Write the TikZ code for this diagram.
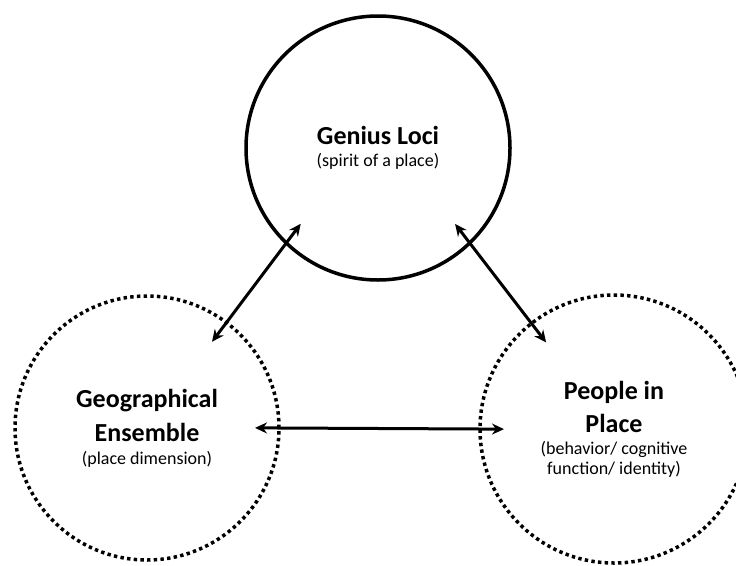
\documentclass[tikz,border=0pt]{standalone}
\usepackage{fontspec}
\setmainfont{Carlito}
\usetikzlibrary{arrows.meta}

\newcommand\headtxt{\fontsize{26}{31}\selectfont\bfseries}
\newcommand\notetxt{\fontsize{18}{20}\selectfont}

\begin{document}
\begin{tikzpicture}[x=1pt,y=-1pt,
    place/.style={circle,minimum size=264pt,inner sep=0pt,outer sep=0pt,align=center,
      font=\notetxt},
    solidring/.style={place,draw,line width=3.5pt},
    dotring/.style={place,draw,line width=3.5pt,dash pattern=on 3.4pt off 3.29pt},
    link/.style={{Stealth[length=12pt,width=11pt]}-{Stealth[length=12pt,width=11pt]},
      line width=3pt,shorten <=-24pt,shorten >=-24pt}]
  \useasboundingbox (0,0) rectangle (736,565);
  \clip (0,0) rectangle (736,565);
  % the three places
  \node[solidring] (loci) at (378,148)
    {\headtxt Genius Loci\\[2pt] (spirit of a place)};
  \node[dotring] (geo) at (147,428)
    {\headtxt Geographical\\[10pt] \headtxt Ensemble\\[3pt] (place dimension)};
  \node[dotring,minimum size=268pt] (people) at (614,429)
    {\headtxt People in\\[10pt] \headtxt Place\\[2pt] (behavior/ cognitive\\ function/ identity)};
  % links between them
  \draw[link] (geo.53) -- (loci.226);
  \draw[link] (loci.314) -- (people.128.4);
  \draw[link] (geo.0) -- (people.180);
\end{tikzpicture}
\end{document}
